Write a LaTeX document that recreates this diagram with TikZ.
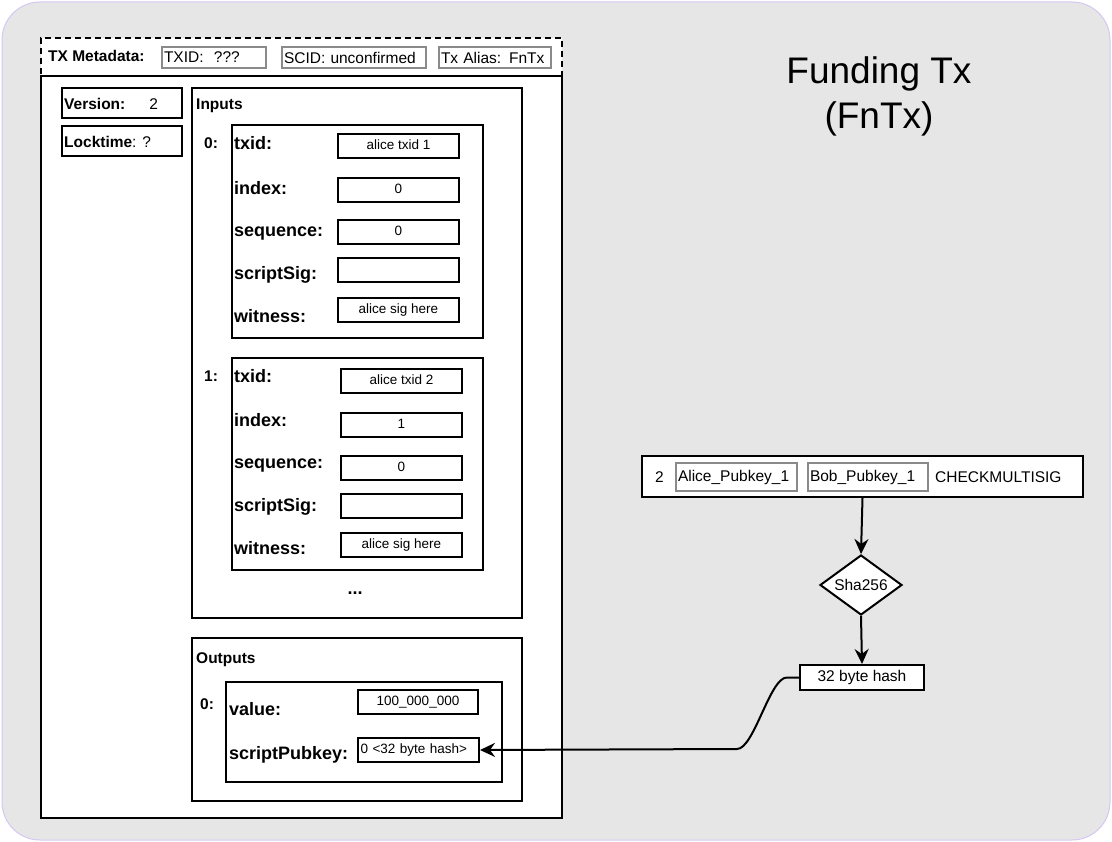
\documentclass[tikz,border=0pt]{standalone}
\usepackage{fontspec}
\setmainfont{Liberation Sans}
\usetikzlibrary{arrows.meta,
                positioning,
                shapes.geometric}
\definecolor{bgfill}{HTML}{E6E6E6}
\definecolor{bgline}{HTML}{D5C8F2}
\definecolor{keygray}{HTML}{8A8A8A}
\tikzset{frame/.style={draw, line width=2pt, fill=white, anchor=north west, inner sep=0pt},
    keybox/.style={draw=keygray, line width=2pt, fill=white, anchor=north west,
        inner sep=2pt, align=left, font=\fontsize{15.5}{18}\selectfont},
    field/.style={anchor=west, inner sep=0pt, font=\bfseries\fontsize{18}{20}\selectfont,
        text height=15pt, text depth=2pt},
    small/.style={anchor=west, inner sep=0pt, font=\fontsize{15.5}{18}\selectfont,
        text height=12pt, text depth=1pt},
    smallbf/.style={small, font=\bfseries\fontsize{15.5}{18}\selectfont},
    valbox/.style={frame, minimum width=121pt, minimum height=24pt,
        font=\fontsize{13.5}{16}\selectfont, text height=10pt, text depth=3pt},
    conn/.style={line width=2pt, -{Stealth[length=15pt, width=14pt, inset=5pt]}}}

\begin{document}
\begin{tikzpicture}[x=1pt, y=-1pt]
        \useasboundingbox (0,0) rectangle (1112,842);
        \draw[bgline, fill=bgfill, line width=1pt, rounded corners=38pt] (2,2) rectangle (1110,840);

        % tx frame
        \node[frame, dash pattern=on 6pt off 4pt, minimum width=521pt, minimum height=38pt] (meta) at (40,37) {};
        \node[frame, minimum width=521pt, minimum height=742pt] (tx) at (40,75) {};
        \node[smallbf] (metalbl) at (48,56) {TX Metadata:};
        \node[keybox, text width=100pt, minimum height=21pt] (txid) at (161,46) {TXID:\ \ ???};
        \node[keybox, text width=140pt, minimum height=21pt] (scid) at (281,46) {SCID: unconfirmed};
        \node[keybox, text width=108pt, minimum height=21pt] (alias) at (438,46) {Tx Alias: FnTx};

        \node[frame, minimum width=120pt, minimum height=30pt] (version) at (61,87) {};
        \node[small] (versionlbl) at (64,104) {\textbf{Version:}\hspace{24pt}2};
        \node[frame, minimum width=120pt, minimum height=30pt] (locktime) at (61,125) {};
        \node[small] (locktimelbl) at (64,142) {\textbf{Locktime}: ?};

        % inputs
        \node[frame, minimum width=330pt, minimum height=530pt] (inputs) at (191,87) {};
        \node[smallbf] (inputslbl) at (196,104) {Inputs};

        \node[frame, minimum width=251pt, minimum height=213pt] (inzero) at (231,124) {};
        \node[smallbf] (inzerolbl) at (204,143) {0:};
        \node[field] (inzerotxid) at (234,143) {txid:};
        \node[field] (inzeroindex) at (234,188) {index:};
        \node[field] (inzeroseq) at (234,230) {sequence:};
        \node[field] (inzerosig) at (234,273) {scriptSig:};
        \node[field] (inzerowit) at (234,316) {witness:};
        \node[valbox] (inzerotxidval) at (337,133) {alice txid 1};
        \node[valbox] (inzeroindexval) at (337,177) {0};
        \node[valbox] (inzeroseqval) at (337,219) {0};
        \node[valbox] (inzerosigval) at (337,257) {};
        \node[valbox] (inzerowitval) at (337,297) {alice sig here};

        \node[frame, minimum width=251pt, minimum height=212pt] (inone) at (231,357) {};
        \node[smallbf] (inonelbl) at (204,376) {1:};
        \node[field] (inonetxid) at (234,376) {txid:};
        \node[field] (inoneindex) at (234,420) {index:};
        \node[field] (inoneseq) at (234,462) {sequence:};
        \node[field] (inonesig) at (234,505) {scriptSig:};
        \node[field] (inonewit) at (234,548) {witness:};
        \node[valbox] (inonetxidval) at (340,368) {alice txid 2};
        \node[valbox] (inoneindexval) at (340,412) {1};
        \node[valbox] (inoneseqval) at (340,455) {0};
        \node[valbox] (inonesigval) at (340,493) {};
        \node[valbox] (inonewitval) at (340,532) {alice sig here};
        \node[field, anchor=center] (more) at (355,588) {...};

        % outputs
        \node[frame, minimum width=330pt, minimum height=163pt] (outputs) at (191,637) {};
        \node[smallbf] (outputslbl) at (196,658) {Outputs};
        \node[frame, minimum width=276pt, minimum height=100pt] (outzero) at (225,681) {};
        \node[smallbf] (outzerolbl) at (200,704) {0:};
        \node[field] (outzeroval) at (229,709) {value:};
        \node[field] (outzerospk) at (229,753) {scriptPubkey:};
        \node[valbox, minimum width=120pt] (amount) at (357,689) {100\_000\_000};
        \node[valbox, inner sep=2pt, text width=116pt, align=left] (spk) at (357,737) {0 <32 byte hash>};

        % witness script
        \node[frame, minimum width=441pt, minimum height=41pt] (script) at (641,455) {};
        \node[small] (two) at (655,477) {2};
        \node[keybox, text width=117pt, minimum height=28pt] (alicekey) at (675,462) {Alice\_Pubkey\_1};
        \node[keybox, text width=116pt, minimum height=28pt] (bobkey) at (807,462) {Bob\_Pubkey\_1};
        \node[small] (checkms) at (935,477) {CHECKMULTISIG};
        \node[draw, line width=2pt, fill=white, diamond, aspect=1.37, inner sep=0pt,
            minimum width=82pt, minimum height=60pt, font=\fontsize{15.5}{18}\selectfont] (sha) at (861,585) {Sha256};
        \node[frame, minimum width=124pt, minimum height=25pt, font=\fontsize{15.5}{18}\selectfont] (hash) at (799,664) {32 byte hash};
        \coordinate (bend) at (737,749);

        \draw[conn] (script.south) -- (sha.north);
        \draw[conn] (sha.south) -- (hash.north);
        \draw[conn] (hash.west) -- ++(-12,0) .. controls (770,677) and (754,749) .. (bend) -- (spk.east);

        \node[align=center, font=\fontsize{37}{45}\selectfont] (title) at (879,96) {Funding Tx\\(FnTx)};
    \end{tikzpicture}
\end{document}
